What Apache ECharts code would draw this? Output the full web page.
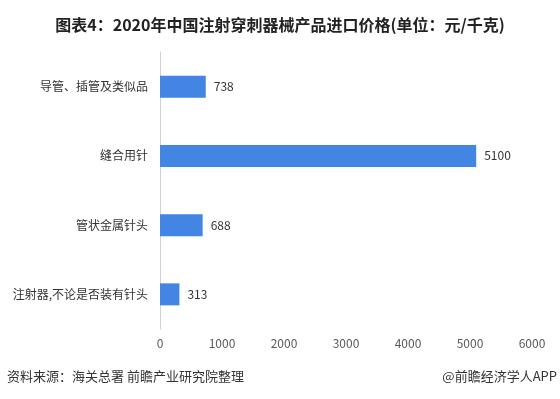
<!DOCTYPE html>
<html>
<head>
<meta charset="utf-8">
<script src="https://cdn.jsdelivr.net/npm/echarts@6/dist/echarts.min.js"></script>
<style>
  html, body { margin: 0; padding: 0; background: #fff; }
  #chart { width: 560px; height: 399px; }
</style>
</head>
<body>
<div id="chart"></div>
<script>
// categories top to bottom
var categorias = ['导管、插管及类似品', '缝合用针', '管状金属针头', '注射器,不论是否装有针头'];
var precios = [738, 5100, 688, 313];
var ticksX = { min: 0, max: 6000, interval: 1000 };

var chart = echarts.init(document.getElementById('chart'));

var option = {
    backgroundColor: '#fff',
    title: {
        text: '图表4：2020年中国注射穿刺器械产品进口价格(单位：元/千克)',
        left: 'center',
        top: 12,
        textStyle: { fontSize: 16, fontWeight: 'bold', color: '#222', fontFamily: 'Noto Sans CJK SC' }
    },
    grid: { left: 160, right: 28, top: 52, bottom: 70 },
    xAxis: {
        type: 'value',
        min: ticksX.min,
        max: ticksX.max,
        interval: ticksX.interval,
        axisLine: { show: false },
        axisTick: { show: false },
        splitLine: { show: false },
        axisLabel: {
            color: '#595959', fontSize: 12, margin: 8, fontFamily: 'Noto Sans CJK SC',
            formatter: function (v) { return String(v); }
        }
    },
    yAxis: {
        type: 'category',
        inverse: true,
        data: categorias,
        axisLine: { show: true, lineStyle: { color: '#d0d0d0' } },
        axisTick: { show: false },
        axisLabel: { color: '#333', fontSize: 12, margin: 12, fontFamily: 'Noto Sans CJK SC' }
    },
    series: [{
        type: 'bar',
        data: precios,
        barWidth: 22,
        itemStyle: { color: '#4285e3' },
        label: {
            show: true,
            position: 'right',
            distance: 8,
            color: '#333',
            fontSize: 12,
            fontFamily: 'Noto Sans CJK SC'
        }
    }],
    graphic: [
        {
            type: 'text', left: 7, top: 370,
            style: { text: '资料来源：海关总署 前瞻产业研究院整理', fill: '#333', fontSize: 13, fontFamily: 'Noto Sans CJK SC' }
        },
        {
            type: 'text', right: 3, top: 370,
            style: { text: '@前瞻经济学人APP', fill: '#333', fontSize: 13, fontFamily: 'Noto Sans CJK SC' }
        }
    ]
};

chart.setOption(option);
</script>
</body>
</html>
